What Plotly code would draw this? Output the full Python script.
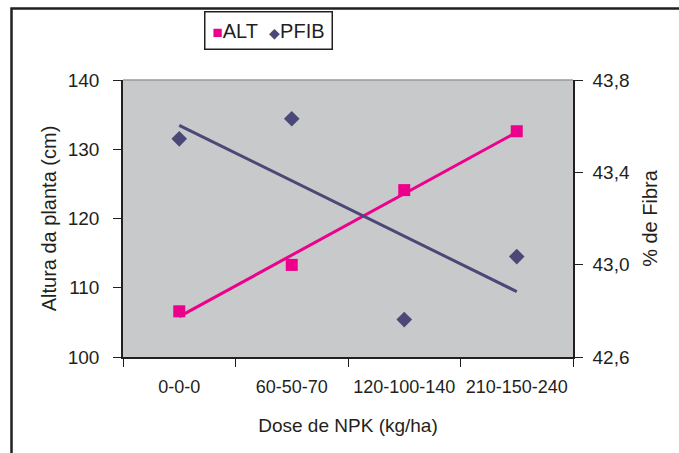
import numpy as np
import plotly.graph_objects as go

categories = ["0-0-0", "60-50-70", "120-100-140", "210-150-240"]
alt = [106.6, 113.3, 124.1, 132.6]
pfib = [43.545, 43.632, 42.762, 43.035]
left_ticks = [100, 110, 120, 130, 140]
right_ticks = [42.6, 43.0, 43.4, 43.8]
right_labels = ["42,6", "43,0", "43,4", "43,8"]
series_names = ["ALT", "PFIB"]

PINK = "#EC008C"
PURPLE = "#4B4777"
INK = "#231F20"
FONT = "Liberation Sans, Arial, sans-serif"

xi = np.arange(len(categories))
a_fit = np.polyval(np.polyfit(xi, alt, 1), xi)
p_fit = np.polyval(np.polyfit(xi, pfib, 1), xi)

fig = go.Figure()
fig.add_trace(go.Scatter(x=categories, y=a_fit, mode="lines", line=dict(color=PINK, width=3),
                         showlegend=False, hoverinfo="skip"))
fig.add_trace(go.Scatter(x=categories, y=p_fit, mode="lines", line=dict(color=PURPLE, width=3),
                         showlegend=False, hoverinfo="skip", yaxis="y2"))
fig.add_trace(go.Scatter(x=categories, y=alt, mode="markers", name=series_names[0], showlegend=False,
                         marker=dict(symbol="square", size=12, color=PINK)))
fig.add_trace(go.Scatter(x=categories, y=pfib, mode="markers", name=series_names[1], yaxis="y2",
                         showlegend=False, marker=dict(symbol="diamond", size=12, color=PURPLE)))

W, H = 679, 453
L, R, T, B = 123, 573, 80, 357
def px(x): return (x - L) / (R - L)
def py(y): return (B - y) / (B - T)

legend_text = (f'<span style="color:{PINK};font-size:17px">■</span>{series_names[0]}\u00a0\u00a0'
               f'<span style="color:{PURPLE};font-size:14px">◆</span>{series_names[1]}')

axis_common = dict(ticks="outside", ticklen=8, tickwidth=1.2, tickcolor=INK, showline=True,
                   linecolor=INK, linewidth=1.5, showgrid=False, zeroline=False, automargin=False)

fig.update_layout(
    width=W, height=H,
    margin=dict(l=L, r=W - R, t=T, b=H - B),
    paper_bgcolor="white", plot_bgcolor="#C8C9CB",
    font=dict(family=FONT, size=19, color=INK),
    showlegend=False,
    xaxis=dict(type="category", range=[-0.5, 3.5], tickson="boundaries", ticklabelstandoff=13,
               tickangle=0, tickfont=dict(size=18),
               title=dict(text="Dose de NPK (kg/ha)", standoff=22, font=dict(size=19)), **axis_common),
    yaxis=dict(range=[100, 140], tickvals=left_ticks, ticklabelstandoff=10,
               title=dict(text="Altura da planta (cm)", standoff=6, font=dict(size=20)), **axis_common),
    yaxis2=dict(range=[42.6, 43.8], tickvals=right_ticks, ticktext=right_labels, overlaying="y",
                side="right", ticklabelstandoff=6,
                title=dict(text="% de Fibra", standoff=14, font=dict(size=20)), **axis_common),
    annotations=[
        dict(text=legend_text, xref="paper", yref="paper", x=px(268), y=py(30), xanchor="center",
             yanchor="middle", showarrow=False, bordercolor=INK, borderwidth=1.5, borderpad=7,
             bgcolor="white", font=dict(size=20, color=INK)),
    ],
    shapes=[
        dict(type="line", xref="paper", yref="paper", x0=0, x1=1, y0=1, y1=1,
             line=dict(color="#9A9A9A", width=1.5)),
        dict(type="rect", xref="paper", yref="paper", x0=px(11.5), x1=px(700), y0=py(8.5), y1=py(480),
             line=dict(color=INK, width=2.5), fillcolor="rgba(0,0,0,0)"),
    ],
)

fig.write_html("out.html")
